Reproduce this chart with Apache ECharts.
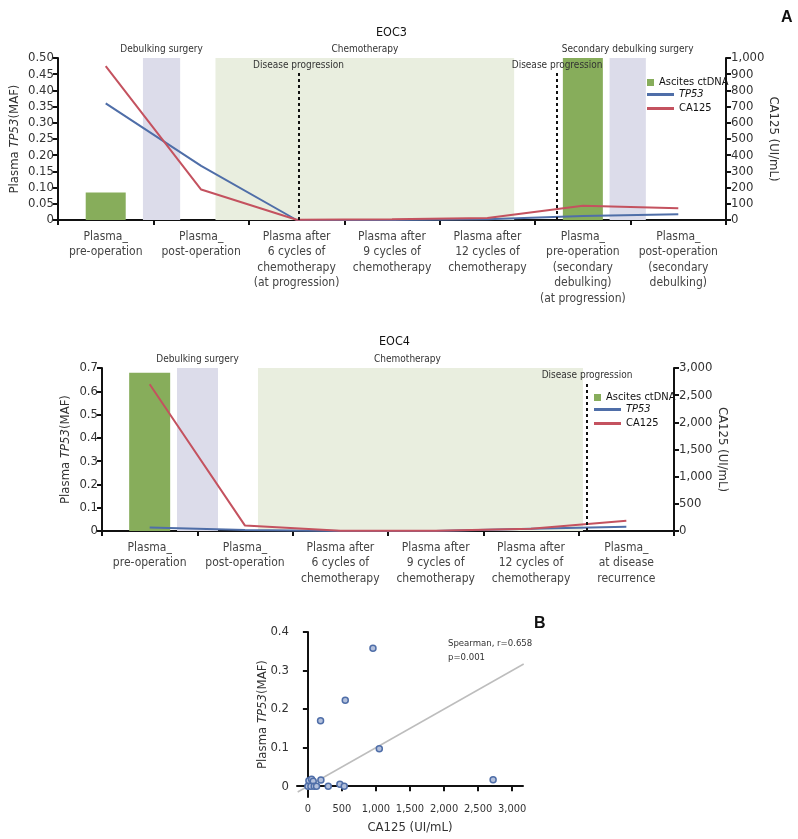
<!DOCTYPE html>
<html><head><meta charset="utf-8">
<script src="https://cdn.jsdelivr.net/npm/echarts@6/dist/echarts.min.js"></script>
<style>html,body{margin:0;padding:0;background:#fff}#c{width:798px;height:839px}</style>
</head><body><div id="c"></div>
<script>
// ---------- EOC3 ----------
const eoc3Categories = [
  'Plasma_\npre-operation',
  'Plasma_\npost-operation',
  'Plasma after\n6 cycles of\nchemotherapy\n(at progression)',
  'Plasma after\n9 cycles of\nchemotherapy',
  'Plasma after\n12 cycles of\nchemotherapy',
  'Plasma_\npre-operation\n(secondary\ndebulking)\n(at progression)',
  'Plasma_\npost-operation\n(secondary\ndebulking)'
];
const eoc3Ascites = [0.085, null, null, null, null, 0.5, null];
const eoc3TP53 = [0.36, 0.167, 0, 0, 0.002, 0.012, 0.018];
const eoc3CA125 = [950, 188, 2, 5, 12, 88, 72];
// event spans in category units (0 = left edge of first category)
const eoc3Surgery = [[0.89, 1.28, 'Debulking surgery'], [5.78, 6.16, 'Secondary debulking surgery']];
const eoc3Chemo = [[1.65, 4.78, 'Chemotherapy']];
const eoc3Progression = [[2.52, 0.454], [5.23, 0.454]];
const eoc3LeftTicks = [0, 0.5, 0.05];
const eoc3RightTicks = [0, 1000, 100];

// ---------- EOC4 ----------
const eoc4Categories = [
  'Plasma_\npre-operation',
  'Plasma_\npost-operation',
  'Plasma after\n6 cycles of\nchemotherapy',
  'Plasma after\n9 cycles of\nchemotherapy',
  'Plasma after\n12 cycles of\nchemotherapy',
  'Plasma_\nat disease\nrecurrence'
];
const eoc4Ascites = [0.68, null, null, null, null, null];
const eoc4TP53 = [0.015, 0.004, 0, 0, 0.01, 0.018];
const eoc4CA125 = [2700, 100, 5, 3, 40, 190];
const eoc4Surgery = [[0.787, 1.217, 'Debulking surgery']];
const eoc4Chemo = [[1.636, 5.045, 'Chemotherapy']];
const eoc4Progression = [[5.088, 0.636]];
const eoc4LeftTicks = [0, 0.7, 0.1];
const eoc4RightTicks = [0, 3000, 500];

// ---------- Scatter (B) ----------
const scatterCA125 = [956, 549, 186, 1049, 2721, 191, 15, 54, 78, 0, 44, 93, 127, 299, 470, 534];
const scatterTP53 = [0.358, 0.223, 0.170, 0.097, 0.017, 0.016, 0.014, 0.018, 0.013, 0, 0, 0, 0, 0, 0.005, 0];
const fitLine = [[-150, -0.015], [3170, 0.317]];
const scatterXTicks = [0, 500, 1000, 1500, 2000, 2500, 3000];
const scatterYTicks = [0, 0.1, 0.2, 0.3, 0.4];
const scatterStats = ['Spearman, r=0.658', 'p=0.001'];

// ---------- styles ----------
const F = "'Liberation Sans Narrow','DejaVu Sans Condensed','DejaVu Sans',sans-serif";
const GREEN = '#87ad5b', PURPLE = '#dcdcea', CHEMO = '#e9eedf', BLUE = '#4f6ea8', RED = '#c4525f';
const TXT = '#333';
const fmt = v => Number(v).toLocaleString('en-US');

const axisLine = { show: true, lineStyle: { color: '#111', width: 2 } };
const axisTick = { show: true, length: 5, lineStyle: { color: '#111', width: 2 } };
const tickLabel = (extra) => Object.assign({ fontFamily: F, fontSize: 13, color: TXT }, extra || {});
const leftName = '{n|Plasma }{i|TP53}{n|(MAF)}';
const nameRich = { n: { fontFamily: F, fontSize: 13, color: TXT }, i: { fontFamily: F, fontSize: 13, color: TXT, fontStyle: 'italic' } };

function catAxis(grid, cats) {
  return {
    type: 'category', gridIndex: grid, data: cats, boundaryGap: true,
    axisLine, axisTick: Object.assign({}, axisTick, { alignWithLabel: false }),
    axisLabel: tickLabel({ interval: 0, margin: 9, fontSize: 12, lineHeight: 15.5, color: '#444' }),
    splitLine: { show: false }
  };
}
function hiddenX(grid, n) {
  return { type: 'value', gridIndex: grid, min: 0, max: n, show: false, splitLine: { show: false } };
}
function valAxis(grid, t, pos, name, nameGap, nameRotate, fmtFn) {
  return {
    type: 'value', gridIndex: grid, position: pos, min: t[0], max: t[1], interval: t[2],
    axisLine, axisTick, splitLine: { show: false },
    axisLabel: tickLabel({ margin: pos === 'left' ? 4 : 5, formatter: fmtFn }),
    name, nameLocation: 'middle', nameGap, nameRotate, nameMoveOverlap: false,
    nameTextStyle: { fontFamily: F, fontSize: 13, color: TXT, rich: nameRich }
  };
}

function bandSeries(xIdx, yIdx, surgery, chemo, progression, chemoOffset) {
  const annLabel = { show: true, position: 'top', distance: 4, fontFamily: F, fontSize: 10, color: TXT };
  return [
    {
      type: 'line', name: 'bands' + xIdx, xAxisIndex: xIdx, yAxisIndex: yIdx, data: [], silent: true, z: 1,
      markArea: {
        silent: true,
        data: surgery.map(s => [
          { xAxis: s[0], name: s[2], itemStyle: { color: PURPLE }, label: annLabel },
          { xAxis: s[1] }
        ]).concat(chemo.map(s => [
          { xAxis: s[0], name: s[2], itemStyle: { color: CHEMO }, label: Object.assign({}, annLabel, { offset: [chemoOffset, 0] }) },
          { xAxis: s[1] }
        ]))
      }
    },
    {
      type: 'line', name: 'prog' + xIdx, xAxisIndex: xIdx, yAxisIndex: yIdx, data: [], silent: true, z: 4,
      markLine: {
        silent: true, symbol: 'none',
        lineStyle: { color: '#111', type: [3, 3], width: 2 },
        label: { show: true, position: 'end', distance: 2, formatter: 'Disease progression', fontFamily: F, fontSize: 10, color: TXT },
        data: progression.map(p => [{ coord: [p[0], 0] }, { coord: [p[0], p[1]] }])
      }
    }
  ];
}

function dataSeries(catIdx, yL, yR, asc, tp, ca, barW) {
  return [
    { type: 'bar', name: 'Ascites ctDNA', xAxisIndex: catIdx, yAxisIndex: yL, data: asc, barWidth: barW, itemStyle: { color: GREEN }, z: 2 },
    { type: 'line', name: 'TP53', xAxisIndex: catIdx, yAxisIndex: yL, data: tp, symbol: 'none', lineStyle: { color: BLUE, width: 2 }, itemStyle: { color: BLUE }, z: 3 },
    { type: 'line', name: 'CA125', xAxisIndex: catIdx, yAxisIndex: yR, data: ca, symbol: 'none', lineStyle: { color: RED, width: 2 }, itemStyle: { color: RED }, z: 3 }
  ];
}

function legends(left, top) {
  const ts = { fontFamily: F, fontSize: 11, color: '#111', rich: { i: { fontFamily: F, fontSize: 11, color: '#111', fontStyle: 'italic' } } };
  return [
    { data: ['Ascites ctDNA'], left, top, orient: 'vertical', icon: 'rect', itemWidth: 7, itemHeight: 7, itemGap: 0, textStyle: ts, selectedMode: false, padding: 0 },
    { data: ['TP53', 'CA125'], left, top: top + 12, orient: 'vertical', icon: 'rect', itemWidth: 27, itemHeight: 3, itemGap: 3,
      textStyle: ts, selectedMode: false, padding: 0, formatter: n => n === 'TP53' ? '{i|TP53}' : n }
  ];
}

const option = {
  backgroundColor: '#fff',
  animation: false,
  title: [
    { text: 'EOC3', left: 371, top: 21, textStyle: { fontFamily: F, fontSize: 12.5, fontWeight: 'normal', color: '#111' } },
    { text: 'EOC4', left: 374, top: 330, textStyle: { fontFamily: F, fontSize: 12.5, fontWeight: 'normal', color: '#111' } },
    { text: 'A', left: 776, top: 5, textStyle: { fontFamily: 'Liberation Sans', fontSize: 16, fontWeight: 'bold', color: '#111' } },
    { text: 'B', left: 529, top: 611, textStyle: { fontFamily: 'Liberation Sans', fontSize: 16, fontWeight: 'bold', color: '#111' } },
    { text: scatterStats.join('\n'), left: 443, top: 632, textStyle: { fontFamily: F, fontSize: 9.5, fontWeight: 'normal', color: TXT, lineHeight: 14 } }
  ],
  legend: legends(647, 77).concat(legends(594, 392)),
  grid: [
    { left: 58, top: 58, width: 668, height: 162, outerBoundsMode: 'none' },
    { left: 102, top: 368, width: 572, height: 163, outerBoundsMode: 'none' },
    { left: 297, top: 632, width: 226, height: 165, outerBoundsMode: 'none' }
  ],
  xAxis: [
    catAxis(0, eoc3Categories),
    hiddenX(0, eoc3Categories.length),
    catAxis(1, eoc4Categories),
    hiddenX(1, eoc4Categories.length),
    {
      type: 'value', gridIndex: 2, min: -160, max: 3160,
      axisLine, axisTick: Object.assign({}, axisTick, { customValues: scatterXTicks }),
      axisLabel: tickLabel({ customValues: scatterXTicks, formatter: fmt, margin: 7, fontSize: 11, showMaxLabel: true, showMinLabel: true, hideOverlap: false }),
      splitLine: { show: false },
      name: 'CA125 (UI/mL)', nameLocation: 'middle', nameGap: 24, nameMoveOverlap: false,
      nameTextStyle: { fontFamily: F, fontSize: 13, color: TXT }
    }
  ],
  yAxis: [
    valAxis(0, eoc3LeftTicks, 'left', leftName, 37, 90, v => (v === 0 ? '0' : v.toFixed(2))),
    valAxis(0, eoc3RightTicks, 'right', 'CA125 (UI/mL)', 41, -90, fmt),
    valAxis(1, eoc4LeftTicks, 'left', leftName, 30, 90, v => (v === 0 ? '0' : v.toFixed(1))),
    valAxis(1, eoc4RightTicks, 'right', 'CA125 (UI/mL)', 42, -90, fmt),
    {
      type: 'value', gridIndex: 2, min: -0.028, max: 0.4,
      axisLine, axisTick: Object.assign({}, axisTick, { customValues: scatterYTicks }),
      axisLabel: tickLabel({ customValues: scatterYTicks, formatter: v => (v === 0 ? '0' : v.toFixed(1)), margin: 8 }),
      splitLine: { show: false },
      name: leftName, nameLocation: 'middle', nameGap: 28, nameRotate: 90, nameMoveOverlap: false,
      nameTextStyle: { fontFamily: F, fontSize: 13, color: TXT, rich: nameRich }
    }
  ],
  series: [].concat(
    bandSeries(1, 0, eoc3Surgery, eoc3Chemo, eoc3Progression, 0),
    dataSeries(0, 0, 1, eoc3Ascites, eoc3TP53, eoc3CA125, 40),
    bandSeries(3, 2, eoc4Surgery, eoc4Chemo, eoc4Progression, -13),
    dataSeries(2, 2, 3, eoc4Ascites, eoc4TP53, eoc4CA125, 41),
    [
      { type: 'line', name: 'fit', xAxisIndex: 4, yAxisIndex: 4, data: fitLine, symbol: 'none', lineStyle: { color: '#bdbdbd', width: 1.5 }, z: 2, silent: true },
      { type: 'scatter', name: 'samples', xAxisIndex: 4, yAxisIndex: 4,
        data: scatterCA125.map((x, i) => [x, scatterTP53[i]]), symbol: 'circle', symbolSize: 6,
        itemStyle: { color: '#b3c0dc', borderColor: BLUE, borderWidth: 1.5, opacity: 1 }, z: 3 }
    ]
  )
};

const chart = echarts.init(document.getElementById('c'), null, { renderer: 'canvas' });
chart.setOption(option);
</script>
</body></html>
